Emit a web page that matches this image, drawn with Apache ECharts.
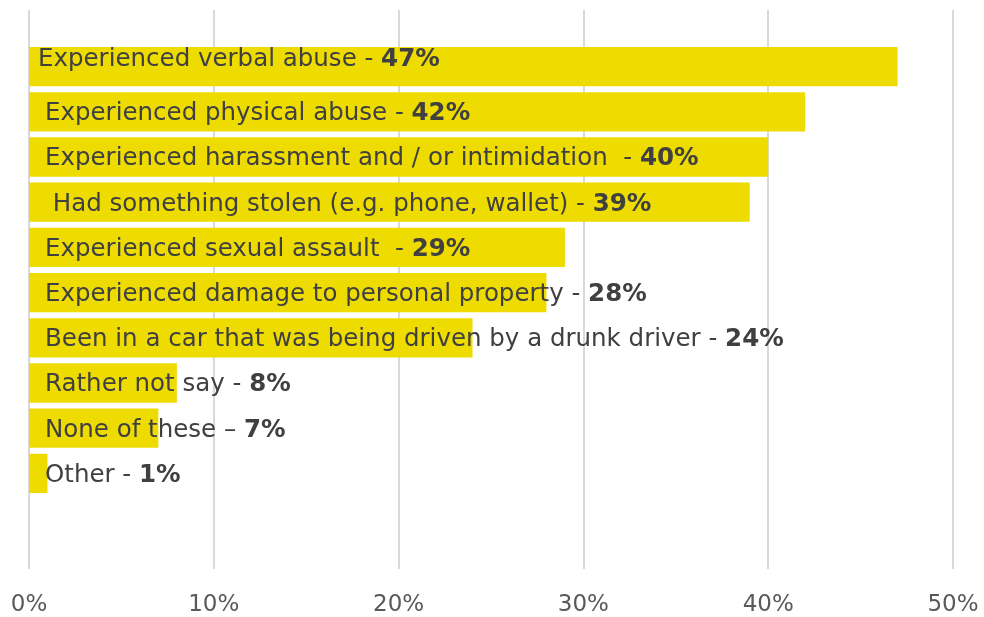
<!DOCTYPE html>
<html lang="en">
<head>
    <meta charset="UTF-8">
    <title>Experiences</title>
    <script src="https://cdn.jsdelivr.net/npm/echarts@6/dist/echarts.min.js"></script>
    <style>
        html, body { margin: 0; padding: 0; background: #fff; }
        #main { width: 984px; height: 617px; }
    </style>
</head>
<body>
    <div id="main"></div>
    <script>
        // categories, top to bottom
        var labels = [
            'Experienced verbal abuse - ',
            'Experienced physical abuse - ',
            'Experienced harassment and / or intimidation  - ',
            ' Had something stolen (e.g. phone, wallet) - ',
            'Experienced sexual assault  - ',
            'Experienced damage to personal property - ',
            'Been in a car that was being driven by a drunk driver - ',
            'Rather not say - ',
            'None of these \u2013 ',
            'Other - '
        ];
        var values = [47, 42, 40, 39, 29, 28, 24, 8, 7, 1];
        var ticks = [0, 10, 20, 30, 40, 50];

        var chart = echarts.init(document.getElementById('main'));
        var font = 'DejaVu Sans, Verdana, sans-serif';

        // first label sits a bit further left and higher in the original
        var barData = values.map(function (v, i) {
            if (i === 0) {
                return { value: v, label: { distance: 9, offset: [0, -7] } };
            }
            return v;
        });

        chart.setOption({
            animation: false,
            grid: [
                { left: 29, right: 31, top: 10, bottom: 42 },
                { left: 29, right: 31, top: 44, height: 452 }
            ],
            xAxis: [{
                gridIndex: 0,
                type: 'value',
                min: ticks[0],
                max: ticks[ticks.length - 1],
                interval: 10,
                axisLine: { show: false },
                axisTick: { show: false },
                splitLine: { lineStyle: { color: '#d9d9d9', width: 2 } },
                axisLabel: {
                    formatter: '{value}%',
                    color: '#595959',
                    fontFamily: font,
                    fontSize: 23,
                    margin: 25
                }
            }, {
                gridIndex: 1,
                type: 'value',
                min: 0,
                max: 50,
                show: false
            }],
            yAxis: [{
                gridIndex: 0,
                type: 'category',
                data: [''],
                show: false
            }, {
                gridIndex: 1,
                type: 'category',
                inverse: true,
                data: labels,
                show: false
            }],
            series: [{
                type: 'bar',
                xAxisIndex: 1,
                yAxisIndex: 1,
                data: barData,
                barCategoryGap: '13%',
                itemStyle: { color: '#eedc00' },
                label: {
                    show: true,
                    position: 'insideLeft',
                    distance: 16,
                    offset: [0, 2],
                    formatter: function (p) {
                        return '{n|' + labels[p.dataIndex] + '}{b|' + p.value + '%}';
                    },
                    rich: {
                        n: { color: '#404040', fontFamily: font, fontSize: 24.5 },
                        b: { color: '#404040', fontFamily: font, fontSize: 24.5, fontWeight: 'bold' }
                    }
                }
            }]
        });
    </script>
</body>
</html>
